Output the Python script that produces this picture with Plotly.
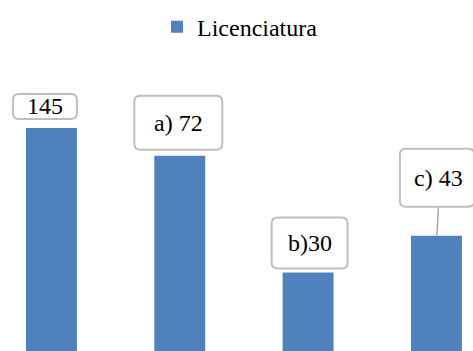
import plotly.graph_objects as go

# Data
categories = ["A", "B", "C", "D"]
values = [145, 127, 51, 75]
label_texts = ["145", "a) 72", "b)30", "c) 43"]
series_name = "Licenciatura"

BAR_COLOR = "#4f81bd"
BOX_LINE = "#bfbfbf"
FONT = "Liberation Serif, Times New Roman, serif"

# Callout boxes, in pixels relative to each bar's centre/top:
# (left, right, bottom, top, text dx, text dy)
box_geom = [
    (-38.5, 25.5, 9, 34, -6, 21.5),
    (-45.5, 42.5, 6, 60, -1, 33),
    (-36.5, 39.5, 4, 55, 1.5, 29.5),
    (-36.5, 38, 29, 87, 2, 58),
]


def rounded_rect(x0, x1, y0, y1, r=6):
    return (f"M {x0+r},{y0} L {x1-r},{y0} Q {x1},{y0} {x1},{y0+r} "
            f"L {x1},{y1-r} Q {x1},{y1} {x1-r},{y1} L {x0+r},{y1} "
            f"Q {x0},{y1} {x0},{y1-r} L {x0},{y0+r} Q {x0},{y0} {x0+r},{y0} Z")


xs = list(range(len(categories)))

fig = go.Figure()
fig.add_trace(go.Bar(
    x=xs, y=values, name=series_name, width=0.397,
    marker=dict(color=BAR_COLOR, line=dict(width=0)),
    showlegend=True,
))

shapes = []
annotations = []
for i, (v, txt, g) in enumerate(zip(values, label_texts, box_geom)):
    l, r, b, t, dx, dy = g
    if i == 3:
        # leader line from the callout down to the bar top
        shapes.append(dict(
            type="line", xref="x", yref="y", xsizemode="pixel", ysizemode="pixel",
            xanchor=i, yanchor=v, x0=2, x1=0.5, y0=b, y1=0,
            line=dict(color="#a6a6a6", width=1.5),
        ))
    shapes.append(dict(
        type="path", xref="x", yref="y", xsizemode="pixel", ysizemode="pixel",
        xanchor=i, yanchor=v, path=rounded_rect(l, r, b, t),
        fillcolor="white", line=dict(color=BOX_LINE, width=2),
    ))
    annotations.append(dict(
        x=i, y=v, xref="x", yref="y", text=txt, showarrow=False,
        xshift=dx, yshift=dy, font=dict(family=FONT, size=24, color="#000000"),
        xanchor="center", yanchor="middle",
    ))

fig.update_layout(
    width=473, height=351,
    margin=dict(l=0, r=0, t=0, b=0),
    paper_bgcolor="white", plot_bgcolor="white",
    xaxis=dict(range=[-0.401, 3.285], visible=False, fixedrange=True),
    yaxis=dict(range=[0, 228.2], visible=False, fixedrange=True),
    shapes=shapes,
    annotations=annotations,
    showlegend=True,
    legend=dict(
        orientation="h", x=157 / 473, xanchor="left", y=0.923, yanchor="middle",
        font=dict(family=FONT, size=24, color="#000000"),
        bgcolor="rgba(0,0,0,0)", itemwidth=30,
    ),
    font=dict(family=FONT),
)

fig.write_html("out.html")
